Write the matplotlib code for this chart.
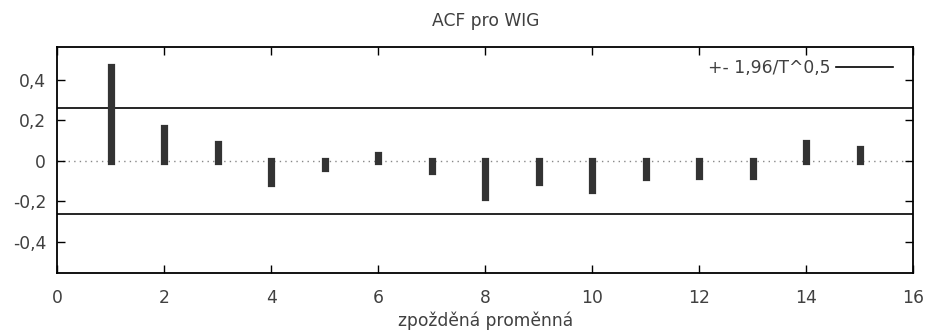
import numpy as np
import matplotlib
matplotlib.use("Agg")
from matplotlib import pyplot as plt
from matplotlib.ticker import FuncFormatter
from matplotlib.lines import Line2D

# ACF hodnoty pro WIG
lags = [1, 2, 3, 4, 5, 6, 7, 8, 9, 10, 11, 12, 13, 14, 15]
acf = [0.46, 0.16, 0.08, -0.11, -0.038, 0.03, -0.053, -0.177,
       -0.103, -0.146, -0.082, -0.074, -0.074, 0.088, 0.056]
mez = 0.262  # 1,96/T^0,5
x_ticks = [0, 2, 4, 6, 8, 10, 12, 14, 16]
y_ticks = [-0.4, -0.2, 0, 0.2, 0.4]

plt.rcParams['axes.unicode_minus'] = False
txt = '#404040'
fs = 12.3

fig = plt.figure(figsize=(9.31, 3.33), dpi=100)
ax = fig.add_axes([0.0616, 0.181, 0.9194, 0.679])

ax.axhline(0, color='#888888', lw=1, ls=(0, (1, 3)), zorder=1)
bars = ax.vlines(lags, 0, acf, color='#333333', lw=5.2, zorder=3)
bars.set_capstyle('projecting')
ax.axhline(mez, color='black', lw=1.2, zorder=2)
ax.axhline(-mez, color='black', lw=1.2, zorder=2)

ax.set_xlim(0, 16)
ax.set_ylim(-0.552, 0.562)
ax.set_xticks(x_ticks)
ax.set_yticks(y_ticks)

def carka(v, pos):
    if abs(v) < 1e-9:
        return '0'
    return ('%.1f' % v).replace('.', ',')

ax.yaxis.set_major_formatter(FuncFormatter(carka))
ax.tick_params(direction='in', length=6, width=1, top=True, right=True,
               labelsize=fs, labelcolor=txt)
ax.tick_params(axis='x', pad=12)
ax.tick_params(axis='y', pad=8)
for s in ax.spines.values():
    s.set_linewidth(1.3)

ax.set_title('ACF pro WIG', fontsize=fs, color=txt, pad=15)
ax.set_xlabel('zpožděná proměnná', fontsize=fs, color=txt, labelpad=3)

h = Line2D([], [], color='black', lw=1.2)
ax.legend([h], ['+- 1,96/T^0,5'], loc='upper right', frameon=False,
          markerfirst=False, fontsize=fs, handlelength=3.3,
          handletextpad=0.35, borderaxespad=0, borderpad=0,
          labelcolor=txt, bbox_to_anchor=(0.976, 0.945))

fig.savefig('out.png', dpi=100)
